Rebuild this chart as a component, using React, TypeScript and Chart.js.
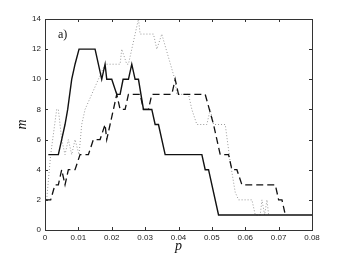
import React, { useEffect, useRef } from "react";
import { Chart, registerables } from "chart.js";

Chart.register(...registerables);

const xTicks = [0, 0.01, 0.02, 0.03, 0.04, 0.05, 0.06, 0.07, 0.08];
const yTicks = [0, 2, 4, 6, 8, 10, 12, 14];

const solidP = [0.001, 0.004, 0.005, 0.006, 0.0068, 0.008, 0.009, 0.0102, 0.015, 0.017, 0.018, 0.0185, 0.02, 0.0215, 0.0225, 0.0234, 0.025, 0.026, 0.027, 0.028, 0.0295, 0.032, 0.033, 0.034, 0.036, 0.047, 0.048, 0.049, 0.052, 0.08];
const solidM = [5, 5, 6, 7, 8, 10, 11, 12, 12, 10, 11, 10, 10, 9, 9, 10, 10, 11, 10, 10, 8, 8, 7, 7, 5, 5, 4, 4, 1, 1];

const dashedP = [0, 0.0017, 0.003, 0.004, 0.005, 0.006, 0.007, 0.009, 0.0105, 0.013, 0.0145, 0.0165, 0.018, 0.0185, 0.0195, 0.0215, 0.0225, 0.024, 0.025, 0.0285, 0.0295, 0.031, 0.032, 0.038, 0.039, 0.04, 0.048, 0.0505, 0.0525, 0.055, 0.056, 0.0575, 0.059, 0.069, 0.07, 0.071, 0.072];
const dashedM = [2, 2, 3, 3, 4, 3, 4, 4, 5, 5, 6, 6, 7, 6, 7, 9, 8, 8, 9, 9, 8, 8, 9, 9, 10, 9, 9, 7, 5, 5, 4, 4, 3, 3, 2, 2, 1];

const dottedP = [0.0005, 0.0017, 0.0035, 0.004, 0.005, 0.006, 0.007, 0.008, 0.009, 0.0102, 0.011, 0.012, 0.014, 0.016, 0.018, 0.0225, 0.023, 0.0245, 0.025, 0.026, 0.027, 0.028, 0.0285, 0.0325, 0.0335, 0.035, 0.0355, 0.0389, 0.0395, 0.043, 0.044, 0.0455, 0.0485, 0.0495, 0.0505, 0.054, 0.0555, 0.057, 0.058, 0.062, 0.063, 0.0645, 0.065, 0.0658, 0.0665, 0.067];
const dottedM = [2, 5, 8, 8, 6, 5, 6, 5, 6, 5, 7, 8, 9, 10, 11, 11, 12, 11, 11, 12, 13, 14, 13, 13, 12, 13, 12.6, 10, 9, 9, 8, 7, 7, 8, 7, 7, 4.5, 2.5, 2, 2, 1, 1, 2, 1, 2, 1];

const toPts = (p: number[], m: number[]) => p.map((v, i) => ({ x: v, y: m[i] }));

const tickFont = { family: "'Liberation Sans', Arial, sans-serif", size: 8 };

const framePlugin = {
  id: "frame",
  afterDraw(chart: any) {
    const { ctx, chartArea } = chart;
    const { left, right, top, bottom } = chartArea;
    const xs = chart.scales.x;
    const ys = chart.scales.y;
    ctx.save();
    ctx.strokeStyle = "#333";
    ctx.lineWidth = 1;
    ctx.strokeRect(Math.round(left) + 0.5, Math.round(top) + 0.5, Math.round(right - left), Math.round(bottom - top));
    ctx.beginPath();
    const tl = 3;
    xTicks.forEach((v) => {
      const px = Math.round(xs.getPixelForValue(v)) + 0.5;
      ctx.moveTo(px, bottom);
      ctx.lineTo(px, bottom - tl);
      ctx.moveTo(px, top);
      ctx.lineTo(px, top + tl);
    });
    yTicks.forEach((v) => {
      const py = Math.round(ys.getPixelForValue(v)) + 0.5;
      ctx.moveTo(left, py);
      ctx.lineTo(left + tl, py);
      ctx.moveTo(right, py);
      ctx.lineTo(right - tl, py);
    });
    ctx.stroke();
    ctx.fillStyle = "#111";
    ctx.font = "12px 'Liberation Serif', 'DejaVu Serif', serif";
    ctx.textBaseline = "middle";
    ctx.textAlign = "left";
    ctx.fillText("a)", left + 13, top + 16);
    ctx.restore();
  },
};

export default function App() {
  const ref = useRef<HTMLCanvasElement | null>(null);
  useEffect(() => {
    if (!ref.current) return;
    const chart = new Chart(ref.current, {
      type: "line",
      data: {
        datasets: [
          {
            label: "solid",
            data: toPts(solidP, solidM),
            borderColor: "#111",
            borderWidth: 1.4,
            pointRadius: 0,
            tension: 0,
            fill: false,
          },
          {
            label: "dashed",
            data: toPts(dashedP, dashedM),
            borderColor: "#111",
            borderWidth: 1.3,
            borderDash: [7, 4],
            pointRadius: 0,
            tension: 0,
            fill: false,
          },
          {
            label: "dotted",
            data: toPts(dottedP, dottedM),
            borderColor: "#999",
            borderWidth: 1,
            borderDash: [1, 2],
            pointRadius: 0,
            tension: 0,
            fill: false,
          },
        ],
      },
      options: {
        animation: false,
        responsive: false,
        events: [],
        layout: { padding: { top: 19, right: 33, left: 0, bottom: 0 } },
        plugins: { legend: { display: false }, tooltip: { enabled: false } },
        scales: {
          x: {
            type: "linear",
            min: 0,
            max: 0.08,
            afterFit: (s: any) => {
              s.height = 29;
            },
            afterBuildTicks: (s: any) => {
              s.ticks = xTicks.map((v) => ({ value: v }));
            },
            ticks: {
              autoSkip: false,
              maxRotation: 0,
              padding: 3,
              color: "#222",
              font: tickFont,
              callback: (v: any) => (Number(v) === 0 ? "0" : Number(v).toFixed(2)),
            },
            grid: { display: false, drawTicks: false },
            border: { display: false },
            title: {
              display: true,
              text: "p",
              color: "#111",
              font: { family: "'Liberation Serif', 'DejaVu Serif', serif", size: 14, style: "italic" },
              padding: { top: 0, bottom: 4 },
            },
          },
          y: {
            type: "linear",
            min: 0,
            max: 14,
            afterFit: (s: any) => {
              s.width = 45;
            },
            afterBuildTicks: (s: any) => {
              s.ticks = yTicks.map((v) => ({ value: v }));
            },
            ticks: {
              autoSkip: false,
              padding: 4,
              color: "#222",
              font: tickFont,
            },
            grid: { display: false, drawTicks: false },
            border: { display: false },
            title: {
              display: true,
              text: "m",
              color: "#111",
              font: { family: "'Liberation Serif', 'DejaVu Serif', serif", size: 14, style: "italic" },
              padding: { top: 14, bottom: 0 },
            },
          },
        },
      },
      plugins: [framePlugin],
    });
    return () => chart.destroy();
  }, []);
  return (
    <div style={{ position: "absolute", left: 0, top: 0, width: 345, height: 259, background: "#fff" }}>
      <canvas ref={ref} width={345} height={259} style={{ width: 345, height: 259 }} />
    </div>
  );
}
